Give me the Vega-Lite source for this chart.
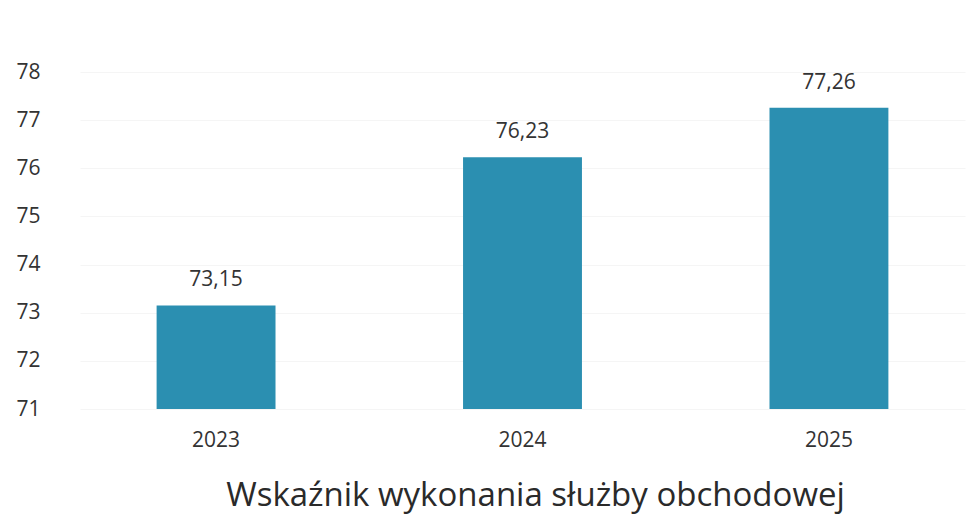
{
  "$schema": "https://vega.github.io/schema/vega-lite/v6.json",
  "width": 885,
  "height": 337,
  "autosize": {"type": "none"},
  "padding": {"left": 80, "top": 72, "right": 6, "bottom": 106},
  "background": "white",
  "config": {
    "view": {"stroke": null},
    "font": "Open Sans",
    "locale": {"number": {"decimal": ",", "thousands": " ", "grouping": [3], "currency": ["", " zł"]}}
  },
  "data": {"values": [
    {"rok": "2023", "wartosc": 73.15},
    {"rok": "2024", "wartosc": 76.23},
    {"rok": "2025", "wartosc": 77.26}
  ]},
  "encoding": {
    "x": {"field": "rok", "type": "nominal",
      "scale": {"paddingInner": 0.612, "paddingOuter": 0.25},
      "axis": {"title": "Wskaźnik wykonania służby obchodowej", "titleFontSize": 33, "titleFontWeight": "normal", "titleColor": "#2a2a2a", "titlePadding": 29, "titleX": 455, "titleAnchor": "middle", "labelAngle": 0, "labelFontSize": 21, "labelColor": "#333", "labelPadding": 20, "domain": false, "ticks": false}},
    "y": {"field": "wartosc", "type": "quantitative",
      "scale": {"domain": [71, 78], "nice": false, "zero": false},
      "axis": {"title": null, "values": [71,72,73,74,75,76,77,78], "labelOverlap": false, "labelFontSize": 21, "labelColor": "#333", "labelPadding": 40, "domain": false, "ticks": false, "gridColor": "#f5f5f5", "gridWidth": 1}}
  },
  "layer": [
    {"mark": {"type": "bar", "color": "#2b8fb1", "clip": true}},
    {"mark": {"type": "text", "dy": -15, "fontSize": 21, "color": "#333", "baseline": "bottom"},
     "encoding": {"text": {"field": "wartosc", "type": "quantitative", "format": ".2f"}}}
  ]
}
